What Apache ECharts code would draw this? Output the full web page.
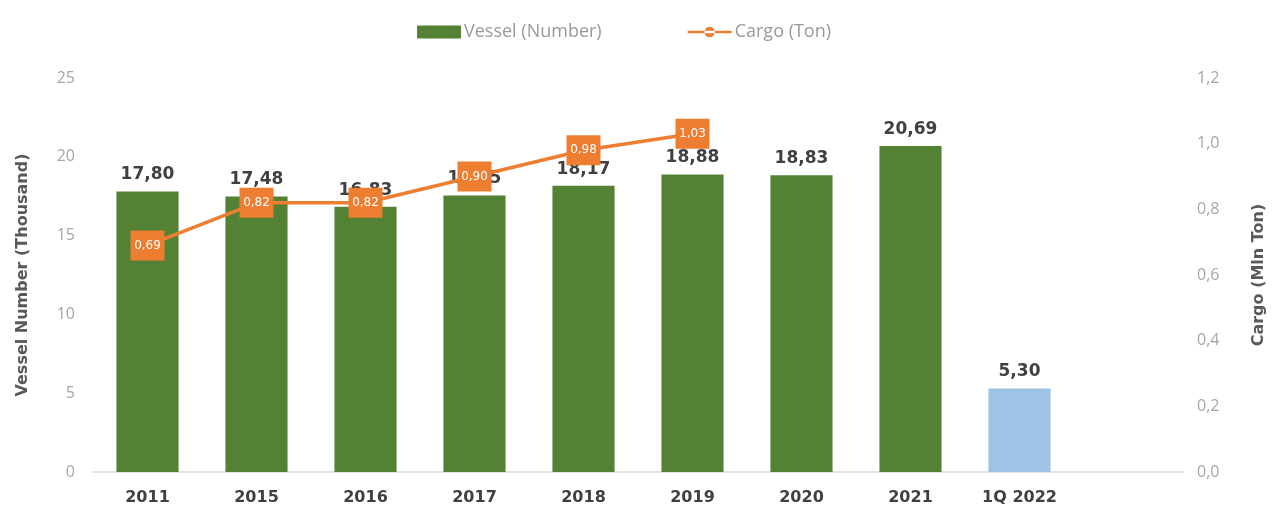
<!DOCTYPE html>
<html>
<head>
<meta charset="utf-8">
<script src="https://cdn.jsdelivr.net/npm/echarts@6/dist/echarts.min.js"></script>
<style>
  html, body { margin: 0; padding: 0; background: #fff; }
  #chart { width: 1277px; height: 517px; }
</style>
</head>
<body>
<div id="chart"></div>
<script>
// Year categories (last slot left empty for spacing on the right)
var categories = ['2011', '2015', '2016', '2017', '2018', '2019', '2020', '2021', '1Q 2022', ''];
// Vessel calls, thousands
var vesselValues = [17.80, 17.48, 16.83, 17.55, 18.17, 18.88, 18.83, 20.69, 5.30];
// Cargo handled, million tons
var cargoValues = [0.69, 0.82, 0.82, 0.90, 0.98, 1.03];
var leftTicks = { min: 0, max: 25, interval: 5 };
var rightTicks = { min: 0, max: 1.2, interval: 0.2 };

var GREEN = '#548235';
var BLUE = '#9DC3E6';
var ORANGE = '#ED7D31';
var FONT = '"DejaVu Sans", "Noto Sans", sans-serif';
var THIN = '"Open Sans", "Noto Sans", sans-serif';

// line-with-dot legend glyph
var LINE_DOT = 'path://M0,6H46V8.6H0Z M17.5,7.3A5.5,5.5 0 1,0 28.5,7.3A5.5,5.5 0 1,0 17.5,7.3Z';

function comma(v, d) { return Number(v).toFixed(d).replace('.', ','); }

var barData = vesselValues.map(function (v, i) {
  return categories[i] === '1Q 2022' ? { value: v, itemStyle: { color: BLUE } } : v;
});

var chart = echarts.init(document.getElementById('chart'), null, { renderer: 'canvas' });
chart.setOption({
  animation: false,
  textStyle: { fontFamily: FONT },
  legend: {
    top: 18,
    left: 412,
    itemWidth: 44,
    itemHeight: 13,
    itemGap: 86,
    textStyle: { color: '#999999', fontSize: 18, fontFamily: THIN, padding: [0, 0, 0, -2] },
    data: [
      { name: 'Vessel (Number)', icon: 'rect' },
      { name: 'Cargo (Ton)', icon: LINE_DOT }
    ]
  },
  grid: { left: 93, right: 94, top: 78, bottom: 45 },
  xAxis: {
    type: 'category',
    data: categories,
    axisLine: { lineStyle: { color: '#d9d9d9', width: 1.5 } },
    axisTick: { show: false },
    axisLabel: { color: '#404040', fontSize: 16, fontWeight: 'bold', margin: 18, fontFamily: FONT }
  },
  yAxis: [
    {
      type: 'value',
      min: leftTicks.min, max: leftTicks.max, interval: leftTicks.interval,
      name: 'Vessel Number (Thousand)',
      nameLocation: 'middle',
      nameGap: 62,
      nameTextStyle: { color: '#595959', fontSize: 16, fontWeight: 'bold', fontFamily: FONT },
      axisLine: { show: false },
      axisTick: { show: false },
      splitLine: { show: false },
      axisLabel: { color: '#a6a6a6', fontSize: 16, margin: 18, fontFamily: THIN }
    },
    {
      type: 'value',
      min: rightTicks.min, max: rightTicks.max, interval: rightTicks.interval,
      name: 'Cargo (Mln Ton)',
      nameLocation: 'middle',
      nameGap: 68,
      nameRotate: 90,
      nameTextStyle: { color: '#595959', fontSize: 16, fontWeight: 'bold', fontFamily: FONT },
      axisLine: { show: false },
      axisTick: { show: false },
      splitLine: { show: false },
      axisLabel: {
        color: '#a6a6a6', fontSize: 16, margin: 14, fontFamily: THIN,
        formatter: function (v) { return comma(v, 1); }
      }
    }
  ],
  series: [
    {
      name: 'Vessel (Number)',
      type: 'bar',
      yAxisIndex: 0,
      data: barData,
      barCategoryGap: '43%',
      itemStyle: { color: GREEN },
      z: 2,
      label: {
        show: true,
        position: 'top',
        distance: 8,
        color: '#404040',
        fontSize: 17,
        fontWeight: 'bold',
        fontFamily: FONT,
        formatter: function (p) { return comma(p.value, 2); }
      }
    },
    {
      name: 'Cargo (Ton)',
      type: 'line',
      yAxisIndex: 1,
      data: cargoValues,
      z: 5,
      symbol: 'rect',
      symbolSize: [34, 30],
      lineStyle: { color: ORANGE, width: 3.5 },
      itemStyle: { color: ORANGE },
      label: {
        show: true,
        position: 'inside',
        color: '#fff',
        fontSize: 12,
        fontFamily: FONT,
        formatter: function (p) { return comma(p.value, 2); }
      }
    }
  ]
});
</script>
</body>
</html>
